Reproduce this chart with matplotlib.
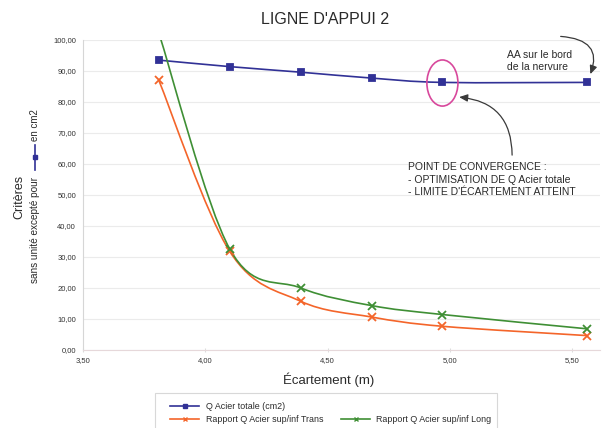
import matplotlib
matplotlib.use("Agg")
import matplotlib.pyplot as plt
from matplotlib.path import Path
from matplotlib.patches import PathPatch, Ellipse, Rectangle
from matplotlib.lines import Line2D
from matplotlib.transforms import ScaledTranslation

plt.rcParams['font.family'] = ['Liberation Sans', 'DejaVu Sans']

# ---- data ----
ecartement = [3.81, 4.10, 4.39, 4.68, 4.97, 5.56]
q_acier_totale = [93.5, 91.4, 89.6, 87.7, 86.3, 86.3]
rapport_trans = [87.0, 31.7, 15.6, 10.5, 7.5, 4.5]
rapport_long = [102.3, 32.5, 19.9, 14.2, 11.3, 6.7]
series_labels = ["Q Acier totale (cm2)", "Rapport Q Acier sup/inf Trans",
                 "Rapport Q Acier sup/inf Long"]
yticks = [0, 10, 20, 30, 40, 50, 60, 70, 80, 90, 100]
xticks = [3.50, 4.00, 4.50, 5.00, 5.50]
convergence_index = 4
bord_index = 5

C_BLUE = '#313196'
C_ORANGE = '#f4652a'
C_GREEN = '#3f8f35'
C_TEXT = '#2a2a2a'


def smooth_path(xs, ys, t=1.0 / 6.0):
    """Excel-like smoothed line as cubic Bezier segments (data coords)."""
    pts = list(zip(xs, ys))
    n = len(pts)
    verts = [pts[0]]
    codes = [Path.MOVETO]
    for i in range(n - 1):
        p_prev = pts[i - 1] if i > 0 else pts[i]
        p0 = pts[i]
        p1 = pts[i + 1]
        p_next = pts[i + 2] if i + 2 < n else pts[i + 1]
        c1 = (p0[0] + (p1[0] - p_prev[0]) * t, p0[1] + (p1[1] - p_prev[1]) * t)
        c2 = (p1[0] - (p_next[0] - p0[0]) * t, p1[1] - (p_next[1] - p0[1]) * t)
        verts += [c1, c2, p1]
        codes += [Path.CURVE4] * 3
    return Path(verts, codes)


W, H = 612, 428
fig = plt.figure(figsize=(W / 100, H / 100), dpi=100)
ax = fig.add_axes([83 / W, 1 - 349.5 / H, (600 - 83) / W, (349.5 - 40) / H])

ax.set_xlim(3.5, 3.5 + (600 - 83) / 244.5)
ax.set_ylim(0, 100)

for xs, ys, col, mk, ms in [
    (ecartement, q_acier_totale, C_BLUE, 's', 5),
    (ecartement, rapport_trans, C_ORANGE, 'x', 6),
    (ecartement, rapport_long, C_GREEN, 'x', 6),
]:
    ax.add_patch(PathPatch(smooth_path(xs, ys), fill=False, edgecolor=col,
                           lw=1.2, zorder=3))
    ax.plot(xs, ys, ls='none', marker=mk, color=col, markersize=ms,
            mew=1.3, zorder=4)

# grid / spines / ticks
ax.set_yticks(yticks)
ax.set_xticks(xticks)
ax.set_yticklabels([f"{v:.2f}".replace('.', ',') for v in yticks])
ax.set_xticklabels([f"{v:.2f}".replace('.', ',') for v in xticks])
ax.yaxis.grid(True, color='#ebebeb', lw=0.8)
ax.set_axisbelow(True)
for s in ['top', 'right']:
    ax.spines[s].set_visible(False)
ax.spines['left'].set_color('#d6d6d6')
ax.spines['bottom'].set_color('#e6d8da')
ax.tick_params(axis='y', length=0, pad=5, labelsize=5.5, labelcolor='#333333')
ax.tick_params(axis='x', length=3, direction='inout', color='#dddddd', pad=4,
               labelsize=5.5, labelcolor='#333333')

# ellipse around convergence point
xc, yc = ecartement[convergence_index], q_acier_totale[convergence_index]
ax.add_patch(Ellipse((xc, yc - 0.2), 0.127, 14.9, fill=False,
                     edgecolor='#d8489c', lw=1.2, zorder=5))

# arrow to convergence point
off = ScaledTranslation(16.7 / 100, -14.7 / 100, fig.dpi_scale_trans)
ax.annotate('', xy=(xc, yc), xycoords=ax.transData + off,
            xytext=(53, -58), textcoords='offset pixels',
            arrowprops=dict(arrowstyle='-|>,head_length=0.5,head_width=0.22',
                            connectionstyle='arc3,rad=0.45', color='#3a3a3a',
                            lw=0.9, shrinkA=0, shrinkB=0))

# arrow to edge point
xb, yb = ecartement[bord_index], q_acier_totale[bord_index]
ax.annotate('', xy=(xb, yb), xycoords='data',
            xytext=(-26, 46), textcoords='offset pixels',
            arrowprops=dict(arrowstyle='-|>,head_length=0.5,head_width=0.22',
                            connectionstyle='arc3,rad=-0.75', color='#3a3a3a',
                            lw=0.9, shrinkA=0, shrinkB=6.5),
            annotation_clip=False)

fig.text(507 / W, 1 - 50 / H, "AA sur le bord\nde la nervure", fontsize=7.5,
         color=C_TEXT, ha='left', va='top', linespacing=1.25)
fig.text(408 / W, 1 - 162 / H,
         "POINT DE CONVERGENCE :\n- OPTIMISATION DE Q Acier totale\n- LIMITE D'ÉCARTEMENT ATTEINT",
         fontsize=7.5, color=C_TEXT, ha='left', va='top', linespacing=1.33)

# title and axis labels
fig.text(325 / W, 1 - 19 / H, "LIGNE D'APPUI 2", fontsize=11.5, color=C_TEXT,
         ha='center', va='center')
fig.text(329 / W, 1 - 380 / H, "Écartement (m)", fontsize=9.5, color=C_TEXT,
         ha='center', va='center')
fig.text(19 / W, 1 - 197 / H, "Critères", fontsize=9, color=C_TEXT,
         rotation=90, ha='center', va='center')
fig.text(35 / W, 1 - 283 / H, "sans unité excepté pour", fontsize=7.2,
         color=C_TEXT, rotation=90, ha='center', va='bottom')
fig.text(35 / W, 1 - 109 / H, "en cm2", fontsize=7.0,
         color=C_TEXT, rotation=90, ha='center', va='top')
fig.add_artist(Line2D([35 / W, 35 / W], [1 - 170 / H, 1 - 145 / H],
                      transform=fig.transFigure, color=C_BLUE, lw=1.2))
fig.add_artist(Line2D([35 / W], [1 - 157 / H], transform=fig.transFigure,
                      color=C_BLUE, marker='s', markersize=2.5, ls='none'))

# legend (frame drawn separately, it runs off the bottom of the picture)
fig.add_artist(Rectangle((155 / W, -0.05), (497 - 155) / W, 1 - 393 / H + 0.05,
                         transform=fig.transFigure, fill=False,
                         edgecolor='#d8d8d8', lw=0.8))
h_blue = Line2D([], [], color=C_BLUE, lw=1.2, marker='s', markersize=3)
h_orange = Line2D([], [], color=C_ORANGE, lw=1.2, marker='x', markersize=3.5, mew=1)
h_green = Line2D([], [], color=C_GREEN, lw=1.2, marker='x', markersize=3.5, mew=1)
h_blank = Line2D([], [], ls='none')
leg = fig.legend([h_blue, h_orange, h_blank, h_green],
                 [series_labels[0], series_labels[1], '', series_labels[2]],
                 ncol=2, loc='upper left', bbox_to_anchor=(170 / W, 1 - 402 / H),
                 fontsize=6.4, frameon=False,
                 handlelength=3.3, handletextpad=0.7, columnspacing=2.0,
                 labelspacing=0.5, borderpad=0, borderaxespad=0)
for t in leg.get_texts():
    t.set_color(C_TEXT)

fig.savefig('out.png', dpi=100)
